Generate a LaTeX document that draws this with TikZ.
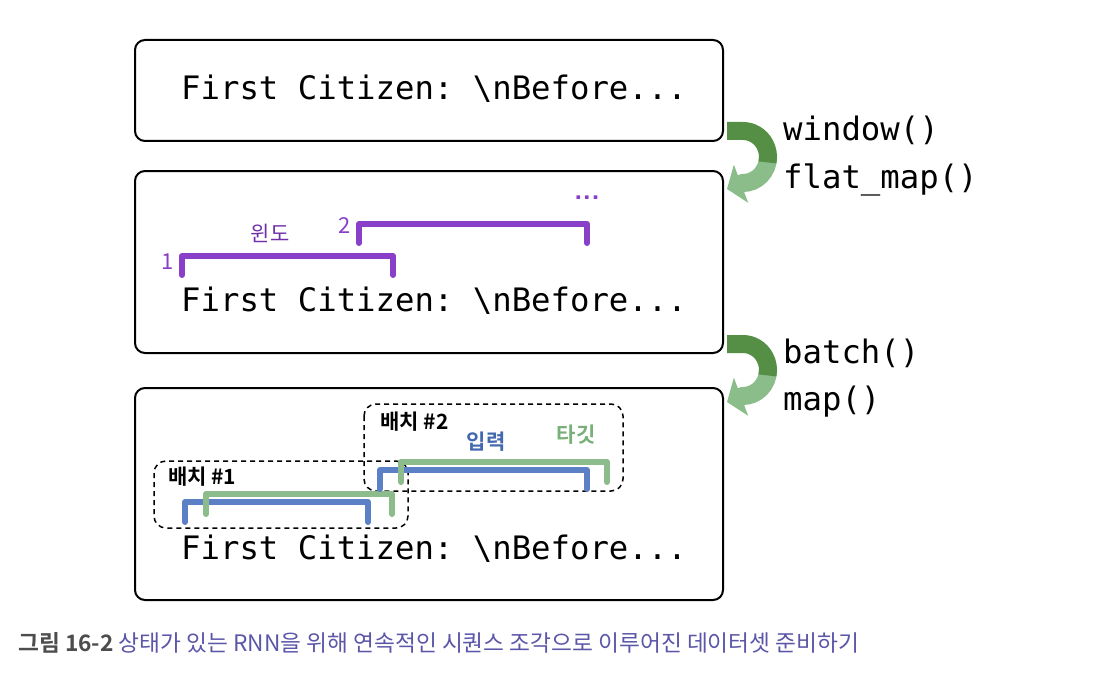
\documentclass[tikz,border=0pt]{standalone}
\usepackage{fontspec}
\setmonofont{DejaVu Sans Mono}
\newfontfamily\kr{Noto Sans CJK KR}
\newfontfamily\krb{Noto Sans CJK KR Bold}
\usetikzlibrary{arrows.meta}
\definecolor{purp}{HTML}{8A3FC8}
\definecolor{purplbl}{HTML}{6F2FA8}
\definecolor{blu}{HTML}{5B80C5}
\definecolor{blulbl}{HTML}{4468B0}
\definecolor{grn}{HTML}{8CBC8C}
\definecolor{grnlbl}{HTML}{79B079}
\definecolor{arrdark}{HTML}{548F45}
\definecolor{arrlight}{HTML}{8ABD8A}
\definecolor{capgray}{HTML}{4D4D4D}
\definecolor{captxt}{HTML}{5B56A8}
\tikzset{
  stagebox/.style={draw=black, line width=2pt, rounded corners=10pt},
  codetext/.style={anchor=base west, inner sep=0pt, font=\ttfamily\fontsize{32.3}{38}\selectfont},
  bracket/.style={line width=6pt, line cap=round, line join=round},
  batchbox/.style={draw=black, line width=1.5pt, dash pattern=on 5pt off 4pt, rounded corners=12pt},
  krlabel/.style={inner sep=0pt, font=\kr\fontsize{21}{24}\selectfont},
  krbold/.style={inner sep=0pt, font=\krb\fontsize{21}{24}\selectfont},
  numlabel/.style={inner sep=0pt, text=purp, font=\kr\fontsize{22}{24}\selectfont},
}
\begin{document}
\begin{tikzpicture}[x=1pt,y=-1pt]
\useasboundingbox (0,0) rectangle (1116,674);
\fill[white] (0,0) rectangle (1116,674);

% stage boxes
\draw[stagebox] (135,40) rectangle (723,141);
\draw[stagebox] (135,171) rectangle (723,353);
\draw[stagebox] (135,388) rectangle (723,600);
\node[codetext] (t1) at (181,100) {First Citizen: \textbackslash nBefore...};
\node[codetext] (t2) at (181,311) {First Citizen: \textbackslash nBefore...};
\node[codetext] (t3) at (181,559) {First Citizen: \textbackslash nBefore...};

% curved arrows
\foreach \dy/\nm in {0/a, 213/b} {
  \begin{scope}[yshift=-\dy pt]
    \draw[arrlight, line width=18pt, -{Triangle[width=40pt,length=15pt]}]
      (768,157) arc[start angle=0, end angle=90, x radius=25, y radius=26] -- (727,189);
    \draw[arrdark, line width=18pt]
      (727,131) -- (743,131) arc[start angle=-90, end angle=12, x radius=25, y radius=26];
  \end{scope}
}
\node[codetext] (w1) at (783,140) {window()};
\node[codetext] (w2) at (783,188) {flat\_map()};
\node[codetext] (w3) at (783,363) {batch()};
\node[codetext] (w4) at (783,410) {map()};

% windows (stage 2)
\coordinate (p1a) at (182,275); \coordinate (p1b) at (393,275);
\draw[bracket, purp] (p1a) -- (182,256) -- (393,256) -- (p1b);
\coordinate (p2a) at (359,243); \coordinate (p2b) at (587,243);
\draw[bracket, purp] (p2a) -- (359,224) -- (587,224) -- (p2b);
\node[numlabel] (n1) at (168,262) {1};
\node[numlabel] (n2) at (345,226) {2};
\node[krlabel, text=purplbl] (win) at (270,233) {윈도};
\node[inner sep=0pt, text=purp, font=\sffamily\bfseries\fontsize{28}{30}\selectfont] (dots) at (587,198) {...};

% batches (stage 3)
\draw[batchbox] (154,461) rectangle (408,528);
\draw[batchbox] (364,404) rectangle (623,491);
\draw[bracket, blu] (185,522) -- (185,502) -- (368,502) -- (368,522);
\draw[bracket, grn] (206,514) -- (206,494) -- (392,494) -- (392,514);
\draw[bracket, blu] (380,489) -- (380,470) -- (587,470) -- (587,489);
\draw[bracket, grn] (401,482) -- (401,462) -- (607,462) -- (607,482);
\node[krbold, anchor=west] (b1) at (168,477) {배치 \#1};
\node[krbold, anchor=west] (b2) at (380,422) {배치 \#2};
\node[krbold, text=blulbl] (inp) at (486,442) {입력};
\node[krbold, text=grnlbl] (tgt) at (576,435) {타깃};

% caption
\node[anchor=west, inner sep=0pt, font=\kr\fontsize{22.7}{26}\selectfont] (cap) at (18,643)
  {{\krb\color{capgray}그림 16-2} \color{captxt}상태가 있는 RNN을 위해 연속적인 시퀀스 조각으로 이루어진 데이터셋 준비하기};
\end{tikzpicture}
\end{document}
